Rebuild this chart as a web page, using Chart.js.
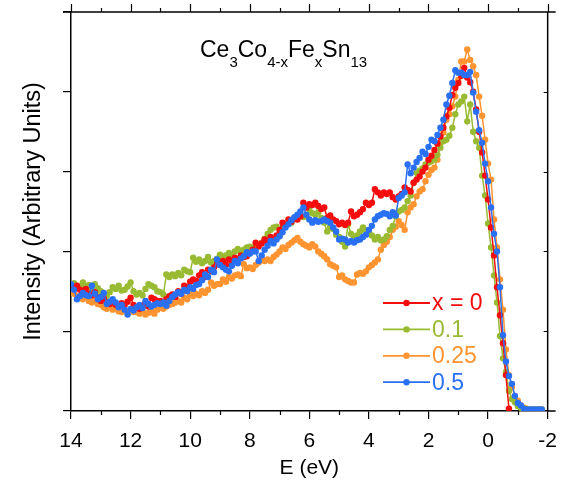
<!DOCTYPE html>
<html>
<head>
<meta charset="utf-8">
<script src="https://cdn.jsdelivr.net/npm/chart.js@4.4.0/dist/chart.umd.min.js"></script>
<style>
html, body { margin: 0; padding: 0; background: #fff; }
#wrap { position: relative; width: 567px; height: 483px; }
#formula { position: absolute; left: 200px; top: 36px; font: 23px "Liberation Sans", Arial, sans-serif; line-height: 26px; color: #000; white-space: nowrap; }
#formula sub { font-size: 15px; vertical-align: -10px; line-height: 0; }
</style>
</head>
<body>
<div id="wrap">
  <canvas id="spectra" width="567" height="483"></canvas>
  <div id="formula">Ce<sub>3</sub>Co<sub>4-x</sub>Fe<sub>x</sub>Sn<sub>13</sub></div>
</div>
<script>
// binding energy (eV), 0.1 eV steps
const energy = [
  14.0, 13.9, 13.8, 13.7, 13.6, 13.5, 13.4, 13.3, 13.2, 13.1,
  13.0, 12.9, 12.8, 12.7, 12.6, 12.5, 12.4, 12.3, 12.2, 12.1,
  12.0, 11.9, 11.8, 11.7, 11.6, 11.5, 11.4, 11.3, 11.2, 11.1,
  11.0, 10.9, 10.8, 10.7, 10.6, 10.5, 10.4, 10.3, 10.2, 10.1,
  10.0, 9.9, 9.8, 9.7, 9.6, 9.5, 9.4, 9.3, 9.2, 9.1,
  9.0, 8.9, 8.8, 8.7, 8.6, 8.5, 8.4, 8.3, 8.2, 8.1,
  8.0, 7.9, 7.8, 7.7, 7.6, 7.5, 7.4, 7.3, 7.2, 7.1,
  7.0, 6.9, 6.8, 6.7, 6.6, 6.5, 6.4, 6.3, 6.2, 6.1,
  6.0, 5.9, 5.8, 5.7, 5.6, 5.5, 5.4, 5.3, 5.2, 5.1,
  5.0, 4.9, 4.8, 4.7, 4.6, 4.5, 4.4, 4.3, 4.2, 4.1,
  4.0, 3.9, 3.8, 3.7, 3.6, 3.5, 3.4, 3.3, 3.2, 3.1,
  3.0, 2.9, 2.8, 2.7, 2.6, 2.5, 2.4, 2.3, 2.2, 2.1,
  2.0, 1.9, 1.8, 1.7, 1.6, 1.5, 1.4, 1.3, 1.2, 1.1,
  1.0, 0.9, 0.8, 0.7, 0.6, 0.5, 0.4, 0.3, 0.2, 0.1,
  0.0, -0.1, -0.2, -0.3, -0.4, -0.5, -0.6, -0.7, -0.8, -0.9,
  -1.0, -1.1, -1.2, -1.3, -1.4, -1.5, -1.6, -1.7, -1.8
];

// x = 0 (stops at -0.7 eV)
const x0 = [
  1.56, 1.55, 1.57, 1.52, 1.50, 1.53, 1.47, 1.45, 1.49, 1.43,
  1.38, 1.41, 1.36, 1.34, 1.37, 1.33, 1.31, 1.35, 1.33, 1.37,
  1.42, 1.33, 1.30, 1.28, 1.32, 1.35, 1.31, 1.42, 1.40, 1.38,
  1.38, 1.36, 1.40, 1.44, 1.46, 1.43, 1.50, 1.47, 1.57, 1.55,
  1.62, 1.65, 1.63, 1.70, 1.74, 1.68, 1.77, 1.75, 1.80, 1.84,
  1.86, 1.88, 1.83, 1.90, 1.87, 1.92, 1.89, 1.95, 1.93, 1.94,
  1.98, 2.02, 2.11, 2.06, 2.10, 2.15, 2.12, 2.18, 2.15, 2.20,
  2.27, 2.36, 2.33, 2.40, 2.37, 2.42, 2.40, 2.44, 2.61, 2.55,
  2.59, 2.58, 2.61, 2.57, 2.53, 2.55, 2.42, 2.45, 2.40, 2.38,
  2.34, 2.36, 2.33, 2.36, 2.50, 2.44, 2.46, 2.49, 2.53, 2.61,
  2.58, 2.61, 2.78, 2.74, 2.70, 2.74, 2.72, 2.74, 2.68, 2.65,
  2.69, 2.72, 2.80, 2.77, 2.75, 2.86, 2.90, 2.94, 3.00, 3.05,
  3.15, 3.20, 3.27, 3.35, 3.44, 3.55, 3.69, 3.80, 3.96, 4.05,
  4.11, 4.20, 4.30, 4.18, 4.12, 4.00, 3.78, 3.50, 3.24, 2.95,
  2.65, 2.30, 1.95, 1.55, 1.20, 0.85, 0.45, 0.03
];

// x = 0.1
const x01 = [
  1.58, 1.60, 1.57, 1.55, 1.61, 1.56, 1.58, 1.52, 1.59, 1.54,
  1.50, 1.46, 1.44, 1.49, 1.55, 1.53, 1.57, 1.51, 1.52, 1.56,
  1.61, 1.50, 1.46, 1.48, 1.45, 1.53, 1.59, 1.57, 1.55, 1.50,
  1.49, 1.46, 1.71, 1.68, 1.71, 1.69, 1.73, 1.70, 1.77, 1.75,
  1.74, 1.92, 1.87, 1.90, 1.85, 1.88, 1.93, 1.86, 1.88, 1.91,
  1.96, 1.92, 1.95, 1.98, 1.94, 2.00, 2.03, 1.99, 2.02, 2.05,
  2.06, 2.04, 2.09, 2.08, 2.11, 2.16, 2.22, 2.27, 2.30, 2.31,
  2.19, 2.30, 2.33, 2.38, 2.36, 2.41, 2.44, 2.46, 2.43, 2.44,
  2.53, 2.48, 2.46, 2.49, 2.42, 2.36, 2.25, 2.31, 2.28, 2.21,
  2.18, 2.12, 2.06, 2.34, 2.22, 2.17, 2.20, 2.25, 2.30, 2.27,
  2.24, 2.20, 2.15, 2.18, 2.14, 2.15, 2.19, 2.27, 2.32, 2.44,
  2.50, 2.52, 2.55, 2.63, 2.70, 2.86, 2.99, 3.01, 3.04, 3.09,
  3.11, 3.13, 3.15, 3.21, 3.30, 3.38, 3.40, 3.45, 3.55, 3.72,
  3.84, 3.88, 3.94, 3.63, 3.84, 3.50, 3.38, 3.30, 2.95, 2.70,
  2.35, 2.05, 1.70, 1.36, 0.94, 0.66, 0.49, 0.25, 0.15, 0.11,
  0.06, 0.04, 0.03, 0.02, 0.02, 0.02, 0.02, 0.02, 0.02
];

// x = 0.25
const x025 = [
  1.50, 1.47, 1.44, 1.42, 1.40, 1.43, 1.38, 1.36, 1.39, 1.34,
  1.33, 1.30, 1.28, 1.31, 1.27, 1.29, 1.25, 1.24, 1.27, 1.23,
  1.26, 1.24, 1.24, 1.22, 1.26, 1.21, 1.23, 1.25, 1.22, 1.27,
  1.30, 1.28, 1.31, 1.33, 1.34, 1.36, 1.38, 1.36, 1.42, 1.40,
  1.46, 1.44, 1.47, 1.45, 1.50, 1.48, 1.52, 1.61, 1.57, 1.59,
  1.59, 1.65, 1.62, 1.68, 1.66, 1.70, 1.71, 1.69, 1.84, 1.79,
  1.80, 1.78, 1.83, 1.86, 1.92, 1.88, 1.90, 1.88, 1.93, 1.96,
  2.00, 2.05, 2.03, 2.08, 2.11, 2.14, 2.17, 2.12, 2.09, 2.07,
  2.05, 2.09, 2.06, 2.00, 1.97, 1.94, 1.90, 1.84, 1.82, 1.80,
  1.68, 1.70, 1.65, 1.63, 1.61, 1.61, 1.71, 1.73, 1.72, 1.75,
  1.80, 1.83, 1.86, 1.90, 2.02, 2.08, 2.12, 2.18, 2.27, 2.31,
  2.38, 2.33, 2.27, 2.49, 2.55, 2.59, 2.69, 2.75, 2.78, 2.88,
  2.96, 3.02, 3.05, 3.15, 3.36, 3.49, 3.65, 3.72, 3.82, 3.94,
  4.15, 4.38, 4.38, 4.53, 4.40, 4.32, 4.21, 3.94, 3.70, 3.40,
  3.10, 2.90, 2.40, 2.05, 1.65, 1.27, 0.77, 0.45, 0.30, 0.19,
  0.13, 0.07, 0.04, 0.03, 0.02, 0.02, 0.02, 0.02, 0.02
];

// x = 0.5
const x05 = [
  1.59, 1.52, 1.40, 1.44, 1.48, 1.45, 1.44, 1.57, 1.47, 1.40,
  1.43, 1.48, 1.34, 1.37, 1.40, 1.36, 1.30, 1.33, 1.27, 1.21,
  1.28, 1.26, 1.30, 1.33, 1.29, 1.38, 1.34, 1.31, 1.33, 1.35,
  1.34, 1.36, 1.32, 1.38, 1.43, 1.46, 1.49, 1.47, 1.52, 1.50,
  1.55, 1.53, 1.58, 1.59, 1.64, 1.71, 1.68, 1.77, 1.74, 1.90,
  1.83, 1.80, 1.77, 1.75, 1.82, 1.88, 1.85, 1.91, 1.94, 1.99,
  1.97, 2.00, 2.00, 1.88, 1.95, 2.02, 2.07, 2.13, 2.10, 2.15,
  2.19, 2.24, 2.30, 2.34, 2.39, 2.43, 2.46, 2.50, 2.55, 2.46,
  2.40, 2.36, 2.39, 2.37, 2.38, 2.40, 2.38, 2.36, 2.30, 2.25,
  2.15, 2.16, 2.15, 2.11, 2.13, 2.11, 2.14, 2.15, 2.18, 2.21,
  2.27, 2.32, 2.40, 2.44, 2.46, 2.48, 2.47, 2.44, 2.49, 2.45,
  2.67, 2.70, 2.74, 3.09, 2.98, 3.05, 3.12, 3.17, 3.25, 3.22,
  3.31, 3.40, 3.38, 3.46, 3.55, 3.65, 3.84, 3.95, 4.11, 4.27,
  4.24, 4.24, 4.21, 4.21, 4.25, 3.99, 3.75, 3.52, 3.36, 3.10,
  2.88, 2.55, 2.22, 2.00, 1.55, 0.95, 0.62, 0.44, 0.34, 0.19,
  0.10, 0.07, 0.03, 0.02, 0.02, 0.02, 0.02, 0.02, 0.02
];

const seriesLabels = ['x = 0', '0.1', '0.25', '0.5'];
const seriesColors = ['#f50d0d', '#99bb33', '#ff9430', '#2a70f5'];
const seriesValues = [x0, x01, x025, x05];
const drawOrder = [1, 2, 3, 0]; // blue on top

const FONT = '"Liberation Sans", Arial, sans-serif';

const datasets = seriesValues.map((vals, i) => ({
  label: seriesLabels[i],
  data: vals.map((v, k) => ({ x: energy[k], y: v })),
  borderColor: seriesColors[i],
  backgroundColor: seriesColors[i],
  pointBackgroundColor: seriesColors[i],
  pointBorderWidth: 0,
  pointRadius: 3.2,
  borderWidth: 1.5,
  order: drawOrder[i]
}));

// legend inside plot + mirrored frame ticks
const insideLegend = {
  id: 'insideLegend',
  afterDraw(chart) {
    const ctx = chart.ctx;
    ctx.save();
    ctx.font = '23px ' + FONT;
    ctx.textBaseline = 'middle';
    seriesLabels.forEach((lab, i) => {
      const y = 303 + i * 26.4;
      ctx.strokeStyle = seriesColors[i];
      ctx.lineWidth = 1.8;
      ctx.beginPath();
      ctx.moveTo(383, y);
      ctx.lineTo(430, y);
      ctx.stroke();
      ctx.fillStyle = seriesColors[i];
      ctx.beginPath();
      ctx.arc(406.5, y, 3.2, 0, Math.PI * 2);
      ctx.fill();
      ctx.fillText(lab, 432, y + 1);
    });
    ctx.restore();
  }
};

const frame = {
  id: 'frame',
  afterDraw(chart) {
    const { ctx, chartArea: a, scales } = chart;
    const xs = scales.x, ys = scales.y;
    ctx.save();
    ctx.strokeStyle = '#000';
    ctx.lineWidth = 1.5;
    ctx.beginPath();
    ctx.moveTo(a.left - 8, a.top);
    ctx.lineTo(a.right + 8, a.top);
    ctx.moveTo(a.right, a.top);
    ctx.lineTo(a.right, a.bottom);
    ctx.moveTo(a.right, a.bottom);
    ctx.lineTo(a.right + 8, a.bottom);
    ctx.stroke();
    ctx.lineWidth = 1.2;
    ctx.beginPath();
    for (let e = -2; e <= 14; e++) {
      const px = Math.round(xs.getPixelForValue(e)) + 0.5;
      const major = e % 2 === 0;
      ctx.moveTo(px, a.top);
      ctx.lineTo(px, a.top - (major ? 8 : 4));
      if (!major) {
        ctx.moveTo(px, a.bottom);
        ctx.lineTo(px, a.bottom + 4);
      }
    }
    for (let v = 1; v <= 4; v++) {
      const py = Math.round(ys.getPixelForValue(v)) + 0.5;
      ctx.moveTo(a.right, py);
      ctx.lineTo(a.right - 4, py);
    }
    ctx.stroke();
    ctx.restore();
  }
};

new Chart(document.getElementById('spectra'), {
  type: 'line',
  data: { datasets: datasets },
  options: {
    responsive: false,
    animation: false,
    devicePixelRatio: 1,
    layout: { padding: { top: 12, right: 18, left: 0, bottom: 0 } },
    plugins: { legend: { display: false }, tooltip: { enabled: false } },
    elements: { line: { tension: 0 } },
    scales: {
      x: {
        type: 'linear',
        reverse: true,
        min: -2,
        max: 14,
        afterFit: (s) => { s.height = 72; },
        ticks: { stepSize: 2, color: '#000', font: { family: FONT, size: 21 }, padding: 10, maxRotation: 0 },
        grid: { drawOnChartArea: false, tickLength: 8, color: '#000', lineWidth: 1.2 },
        border: { color: '#000', width: 1.5 },
        title: { display: true, text: 'E (eV)', color: '#000', font: { family: FONT, size: 21 }, padding: { top: 0, bottom: 2 } }
      },
      y: {
        min: 0,
        max: 5,
        afterFit: (s) => { s.width = 71; },
        ticks: { stepSize: 1, display: false },
        grid: { drawOnChartArea: false, tickLength: 8, color: '#000', lineWidth: 1.2 },
        border: { color: '#000', width: 1.5 },
        title: { display: true, text: 'Intensity (Arbitrary Units)', color: '#000', font: { family: FONT, size: 23.5 }, padding: { top: 19, bottom: 0 } }
      }
    }
  },
  plugins: [insideLegend, frame]
});
</script>
</body>
</html>
